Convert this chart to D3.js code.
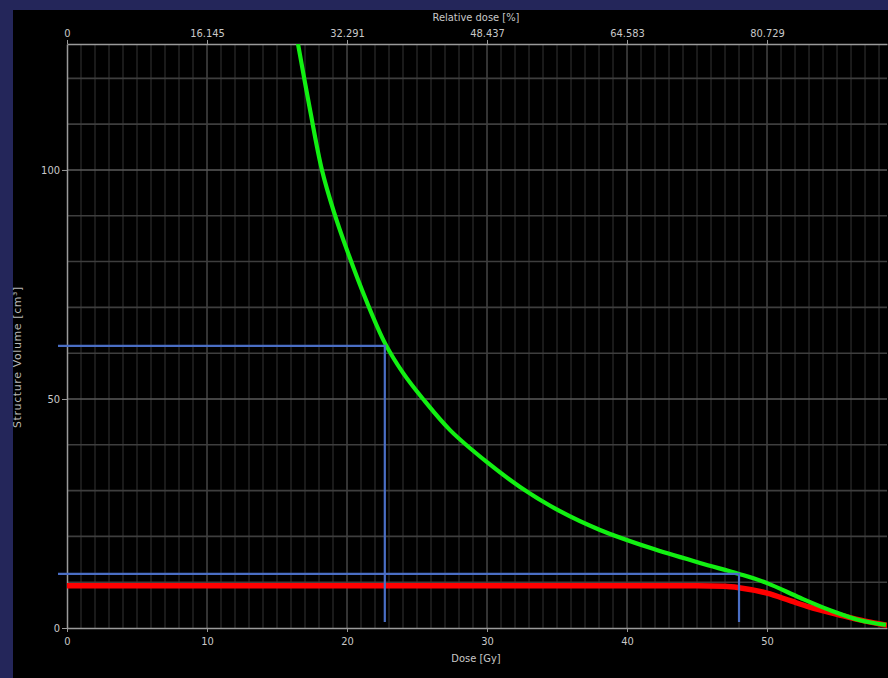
<!DOCTYPE html>
<html>
<head>
<meta charset="utf-8">
<script src="https://cdn.jsdelivr.net/npm/d3@7/dist/d3.min.js"></script>
<style>
  html, body { margin: 0; padding: 0; background: #24265a; }
  svg { display: block; }
  text { font-family: "DejaVu Sans Condensed", "Liberation Sans Narrow", "DejaVu Sans", sans-serif; }
</style>
</head>
<body>
<svg id="dvh" width="888" height="678"></svg>
<script>
// Dose-volume histogram values
const bottomTicks = [0, 10, 20, 30, 40, 50];
const topTickLabels = ["0", "16.145", "32.291", "48.437", "64.583", "80.729"];
const volumeTicks = [0, 50, 100];

// Green structure
const greenDose = [16.5, 17.36, 18.21, 19.07, 20.0, 21.36, 22.71, 24.0, 25.43, 27.36, 30.0, 32.36, 35.21, 38.07, 41.64, 45.21, 48.0, 50.0, 52.36, 54.5, 56.64, 58.5];
const greenVol  = [127.5, 113.1, 100.0, 90.8, 82.5, 71.6, 62.2, 55.7, 50.0, 43.2, 36.2, 30.8, 25.5, 21.4, 17.5, 14.2, 11.8, 9.8, 6.6, 3.9, 1.7, 0.7];

// Red structure
const redDose = [0, 10, 20, 30, 40, 45, 47, 48, 50, 51.7, 53, 55, 57, 58.6];
const redVol  = [9.2, 9.2, 9.2, 9.2, 9.2, 9.2, 9.1, 8.8, 7.6, 5.9, 4.6, 3.0, 1.5, 0.6];

// Dose-volume readout markers
const markerDose = [22.7, 48.0];
const markerVol  = [61.6, 11.8];

const svg = d3.select("#dvh");
const W = 888, H = 678;

// black panel
svg.append("rect").attr("x", 13).attr("y", 10).attr("width", W - 13).attr("height", H - 10).attr("fill", "#000");

const x = d3.scaleLinear().domain([0, 58.57]).range([67, 887]);
const y = d3.scaleLinear().domain([0, 127.5]).range([628, 44]);
const [x0, x1] = x.range();
const [y0, y1] = y.range();

const grid = svg.append("g");
// vertical minor grid every 1 Gy
grid.selectAll("line.vmin").data(d3.range(1, 59).filter(d => d % 10 !== 0))
  .join("line").attr("x1", d => x(d)).attr("x2", d => x(d)).attr("y1", y1).attr("y2", y0)
  .attr("stroke", "#2c2c2c").attr("stroke-width", 1.2);
// vertical major grid every 10 Gy
grid.selectAll("line.vmaj").data(bottomTicks.slice(1))
  .join("line").attr("x1", d => x(d)).attr("x2", d => x(d)).attr("y1", y1).attr("y2", y0)
  .attr("stroke", "#4a4a4a").attr("stroke-width", 1.4);
// horizontal grid every 10 cm3
grid.selectAll("line.h").data(d3.range(10, 128, 10))
  .join("line").attr("x1", x0).attr("x2", x1).attr("y1", d => y(d)).attr("y2", d => y(d))
  .attr("stroke", d => d % 50 === 0 ? "#5a5a5a" : "#3e3e3e").attr("stroke-width", 1.6);

// axes
const axisColor = "#9a9a9a", textColor = "#c8c8c8";
function styleAxis(g) {
  g.select(".domain").attr("stroke", axisColor).attr("stroke-width", 1.5);
  g.selectAll(".tick line").attr("stroke", axisColor);
  g.selectAll(".tick text").attr("fill", textColor).style("font-size", "11px");
}
svg.append("g").attr("transform", `translate(0,${y0})`)
  .call(d3.axisBottom(x).tickValues(bottomTicks).tickSize(4).tickSizeOuter(0).tickPadding(5))
  .call(styleAxis);
svg.append("g").attr("transform", `translate(0,${y1})`)
  .call(d3.axisTop(x).tickValues(bottomTicks).tickFormat((d, i) => topTickLabels[i]).tickSize(4).tickSizeOuter(0).tickPadding(3))
  .call(styleAxis);
svg.append("g").attr("transform", `translate(${x0},0)`)
  .call(d3.axisLeft(y).tickValues(volumeTicks).tickSize(5).tickSizeOuter(0).tickPadding(2))
  .call(styleAxis);

// axis titles
svg.append("text").attr("x", 476).attr("y", 21).attr("text-anchor", "middle")
  .attr("fill", textColor).style("font-size", "11px").text("Relative dose [%]");
svg.append("text").attr("x", 476).attr("y", 662).attr("text-anchor", "middle")
  .attr("fill", textColor).style("font-size", "11px").text("Dose [Gy]");
svg.append("text").attr("transform", "translate(21,357) rotate(-90)").attr("text-anchor", "middle")
  .attr("fill", "#b8b8b8").style("font-size", "11px")
  .style("font-family", "'DejaVu Sans', sans-serif").style("letter-spacing", "0.6px")
  .text("Structure Volume [cm³]");

// clip curves to the plotting area
svg.append("clipPath").attr("id", "plotClip").append("rect")
  .attr("x", x0).attr("y", y1).attr("width", x1 - x0).attr("height", y0 - y1);

const lineRed = d3.line().x(d => x(d[0])).y(d => y(d[1])).curve(d3.curveMonotoneX);
const lineGreen = d3.line().x(d => x(d[0])).y(d => y(d[1])).curve(d3.curveCatmullRom.alpha(0.5));
const curves = svg.append("g").attr("clip-path", "url(#plotClip)");
curves.append("path").datum(d3.zip(redDose, redVol)).attr("d", lineRed)
  .attr("fill", "none").attr("stroke", "#ff0000").attr("stroke-width", 5.5);
curves.append("path").datum(d3.zip(greenDose, greenVol)).attr("d", lineGreen)
  .attr("fill", "none").attr("stroke", "#12f012").attr("stroke-width", 4.2);

// readout cross-hairs
const markers = svg.append("g").attr("fill", "none").attr("stroke", "#4a6ec4").attr("stroke-width", 2.2);
d3.zip(markerDose, markerVol).forEach(([d, v]) => {
  markers.append("path").attr("d", `M${x0 - 9},${y(v)}H${x(d)}V${y0 - 6}`);
});
</script>
</body>
</html>
